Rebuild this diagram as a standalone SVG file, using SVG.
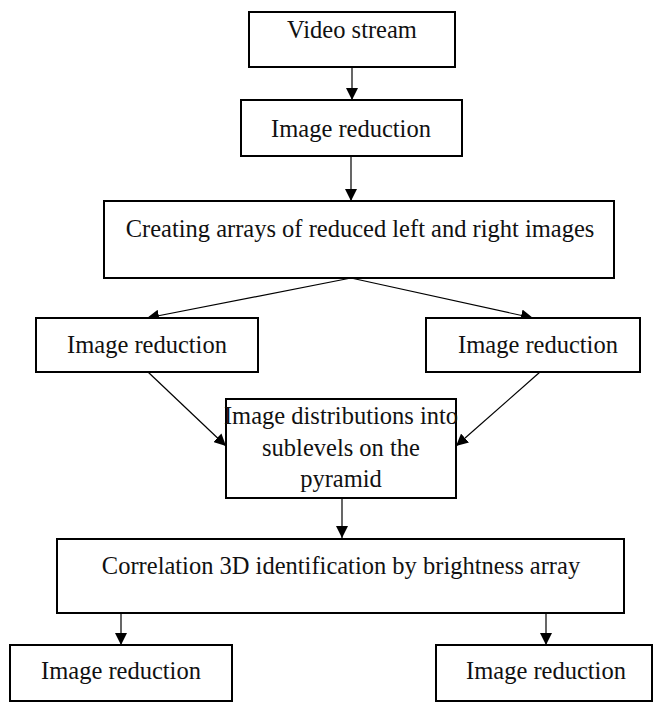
<svg xmlns="http://www.w3.org/2000/svg" width="654" height="702" viewBox="0 0 654 702">
<defs>
<style>
rect.box{fill:#fff;stroke:#000;stroke-width:2}
.conn line{stroke:#000;stroke-width:1.2}
</style>
<marker id="ah" viewBox="0 0 12 12" refX="12" refY="6" markerWidth="12" markerHeight="12" markerUnits="userSpaceOnUse" orient="auto">
<path d="M0,0 L12,6 L0,12 z" fill="#000"/>
</marker>
</defs>
<rect width="654" height="702" fill="#fff"/>
<g class="conn">
<line x1="352" y1="67" x2="352" y2="100" marker-end="url(#ah)"/>
<line x1="351" y1="156" x2="351" y2="201" marker-end="url(#ah)"/>
<line x1="351" y1="278" x2="147" y2="318" marker-end="url(#ah)"/>
<line x1="351" y1="278" x2="533" y2="318" marker-end="url(#ah)"/>
<line x1="148" y1="372" x2="226" y2="446" marker-end="url(#ah)"/>
<line x1="540" y1="372" x2="456" y2="446" marker-end="url(#ah)"/>
<line x1="342" y1="498" x2="342" y2="538" marker-end="url(#ah)"/>
<line x1="121" y1="613" x2="121" y2="645" marker-end="url(#ah)"/>
<line x1="546" y1="613" x2="546" y2="645" marker-end="url(#ah)"/>
</g>
<g id="n1"><rect class="box" x="249" y="12" width="206" height="55"/><text x="352" y="38" font-family="Liberation Serif" font-size="24.5" fill="#111" text-anchor="middle">Video stream</text></g>
<g id="n2"><rect class="box" x="241" y="100" width="221" height="56"/><text x="351" y="137" font-family="Liberation Serif" font-size="24.5" fill="#111" text-anchor="middle">Image reduction</text></g>
<g id="n3"><rect class="box" x="104" y="201" width="510" height="77"/><text x="360" y="237" font-family="Liberation Serif" font-size="24.5" fill="#111" text-anchor="middle">Creating arrays of reduced left and right images</text></g>
<g id="n4"><rect class="box" x="36" y="318" width="222" height="54"/><text x="147" y="353" font-family="Liberation Serif" font-size="24.5" fill="#111" text-anchor="middle">Image reduction</text></g>
<g id="n5"><rect class="box" x="426" y="318" width="214" height="54"/><text x="538" y="353" font-family="Liberation Serif" font-size="24.5" fill="#111" text-anchor="middle">Image reduction</text></g>
<g id="n6"><rect class="box" x="226" y="399" width="230" height="99"/><text x="341" y="424" font-family="Liberation Serif" font-size="24.5" fill="#111" text-anchor="middle">Image distributions into</text><text x="341" y="456" font-family="Liberation Serif" font-size="24.5" fill="#111" text-anchor="middle">sublevels on the</text><text x="341" y="487" font-family="Liberation Serif" font-size="24.5" fill="#111" text-anchor="middle">pyramid</text></g>
<g id="n7"><rect class="box" x="57" y="539" width="567" height="74"/><text x="341" y="574" font-family="Liberation Serif" font-size="24.5" fill="#111" text-anchor="middle">Correlation 3D identification by brightness array</text></g>
<g id="n8"><rect class="box" x="10" y="645" width="222" height="56"/><text x="121" y="679" font-family="Liberation Serif" font-size="24.5" fill="#111" text-anchor="middle">Image reduction</text></g>
<g id="n9"><rect class="box" x="436" y="645" width="216" height="56"/><text x="546" y="679" font-family="Liberation Serif" font-size="24.5" fill="#111" text-anchor="middle">Image reduction</text></g>
</svg>
